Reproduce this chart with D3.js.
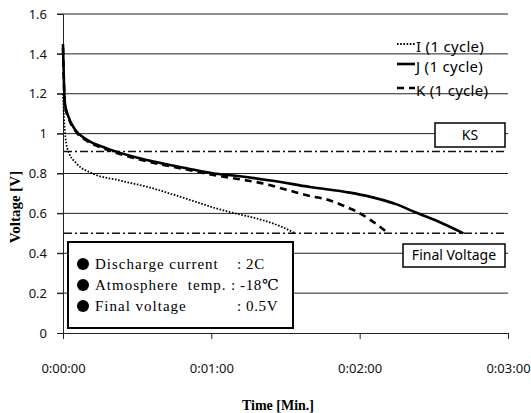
<!DOCTYPE html>
<html>
<head>
<meta charset="utf-8">
<script src="https://cdn.jsdelivr.net/npm/d3@7"></script>
<style>
  body { margin: 0; background: #fff; }
  svg { display: block; }
  .sans { font-family: "Noto Sans", "Open Sans", sans-serif; }
  .serif { font-family: "Liberation Serif", "DejaVu Serif", serif; }
</style>
</head>
<body>
<div id="viz"></div>
<script>
// --- データ (時間[s], 電圧[V]) ---
const tI = [0, 0.4, 1, 2.2, 5.5, 12, 23, 35, 47, 62, 68, 81, 88, 94];
const vI = [1.2, 1.08, 0.98, 0.91, 0.85, 0.80, 0.765, 0.73, 0.685, 0.625, 0.605, 0.565, 0.535, 0.50];

const tJ = [0, 0.4, 0.8, 2.2, 4.9, 9.6, 17.7, 31, 50, 61, 69, 84, 100, 116, 124, 135, 142, 152, 162];
const vJ = [1.45, 1.25, 1.15, 1.085, 1.02, 0.97, 0.926, 0.876, 0.826, 0.80, 0.79, 0.765, 0.732, 0.704, 0.684, 0.645, 0.608, 0.558, 0.50];

const tK = [0, 0.4, 0.8, 2.2, 4.9, 9.6, 17.7, 31, 50, 62, 72, 81, 90, 99, 108, 115, 119, 124, 128, 131.5];
const vK = [1.43, 1.24, 1.14, 1.08, 1.015, 0.965, 0.92, 0.87, 0.82, 0.79, 0.77, 0.75, 0.72, 0.69, 0.665, 0.63, 0.608, 0.57, 0.535, 0.50];

const seriesNames = ["I (1 cycle)", "J (1 cycle)", "K (1 cycle)"];
const xTicks = [0, 60, 120, 180];
const yTicks = [0, 0.2, 0.4, 0.6, 0.8, 1, 1.2, 1.4, 1.6];
const ksLevel = 0.91;
const finalLevel = 0.5;
const infoLabels = ["Discharge current", "Atmosphere\u00a0\u00a0temp.", "Final voltage"];
const infoValues = [": 2C", ": -18\u2103", ": 0.5V"];

// --- 初期化 ---
const W = 531, H = 413;
const svg = d3.select("#viz").append("svg").attr("width", W).attr("height", H);

const x = d3.scaleLinear().domain([0, 180]).range([63, 508]);
const y = d3.scaleLinear().domain([0, 1.6]).range([333, 14]);

const fmtTime = s => {
  const m = Math.floor(s / 60), sec = s % 60;
  return `0:${String(m).padStart(2, "0")}:${String(sec).padStart(2, "0")}`;
};

// グリッド
svg.append("g").selectAll("line")
  .data(yTicks.filter(v => v > 0))
  .enter().append("line")
  .attr("x1", 57).attr("x2", 508)
  .attr("y1", d => y(d)).attr("y2", d => y(d))
  .attr("stroke", "#222").attr("stroke-width", 1);

// 軸
const yAxis = svg.append("g").attr("transform", "translate(63,0)")
  .call(d3.axisLeft(y).tickValues(yTicks).tickSize(6).tickFormat(d3.format("~g")));
const xAxis = svg.append("g").attr("transform", "translate(0,333)")
  .call(d3.axisBottom(x).tickValues(xTicks).tickSize(6).tickFormat(fmtTime));

[yAxis, xAxis].forEach(a => {
  a.select(".domain").attr("stroke", "#222").attr("stroke-width", 1);
  a.selectAll(".tick line").attr("stroke", "#222");
  a.selectAll("text").attr("class", "sans").attr("font-size", 13).attr("fill", "#111");
});
yAxis.selectAll("text").attr("x", -16);
xAxis.selectAll("text").attr("y", 31);

// 一点鎖線 (KS, Final Voltage)
svg.append("g").selectAll("line")
  .data([ksLevel, finalLevel])
  .enter().append("line")
  .attr("x1", 64).attr("x2", 506)
  .attr("y1", d => y(d)).attr("y2", d => y(d))
  .attr("stroke", "#111").attr("stroke-width", 1.4)
  .attr("stroke-dasharray", "8,3,2,3");

// 曲線
const line = d3.line().x(d => x(d[0])).y(d => y(d[1])).curve(d3.curveMonotoneX);
const series = [
  { pts: d3.zip(tI, vI), w: 1.8, dash: "1.6,1.6" },
  { pts: d3.zip(tJ, vJ), w: 2.6, dash: null },
  { pts: d3.zip(tK, vK), w: 2.6, dash: "7,5" }
];
svg.append("g").selectAll("path")
  .data(series)
  .enter().append("path")
  .attr("d", d => line(d.pts))
  .attr("fill", "none").attr("stroke", "#000")
  .attr("stroke-width", d => d.w)
  .attr("stroke-dasharray", d => d.dash);

// 凡例 (右上)
const legY = [47, 67, 91];
const leg = svg.append("g");
series.forEach((s, i) => {
  leg.append("line")
    .attr("x1", 397).attr("x2", 415)
    .attr("y1", legY[i] - 3).attr("y2", legY[i] - 3)
    .attr("stroke", "#000").attr("stroke-width", s.w)
    .attr("stroke-dasharray", s.dash);
  leg.append("text").attr("class", "sans")
    .attr("x", 416).attr("y", legY[i]).attr("dy", "0.35em")
    .attr("font-size", 15).attr("letter-spacing", 0.3)
    .text(seriesNames[i]);
});

// ラベルボックス
function labelBox(x0, y0, w, h, txt) {
  svg.append("rect").attr("x", x0).attr("y", y0).attr("width", w).attr("height", h)
    .attr("fill", "#fff").attr("stroke", "#000").attr("stroke-width", 1.5);
  svg.append("text").attr("class", "sans")
    .attr("x", x0 + w / 2).attr("y", y0 + h / 2).attr("dy", "0.35em")
    .attr("text-anchor", "middle").attr("font-size", 14).text(txt);
}
labelBox(435, 123, 70, 24, "KS");
labelBox(403, 244, 102, 23, "Final Voltage");

// 条件ボックス
svg.append("rect").attr("x", 68).attr("y", 242).attr("width", 225).attr("height", 86)
  .attr("fill", "#fff").attr("stroke", "#000").attr("stroke-width", 2);
const rowY = [264, 285, 306];
const valX = [237, 231, 237];
infoLabels.forEach((t, i) => {
  svg.append("circle").attr("cx", 83).attr("cy", rowY[i]).attr("r", 6).attr("fill", "#000");
  svg.append("text").attr("class", "serif")
    .attr("x", 95).attr("y", rowY[i]).attr("dy", "0.35em")
    .attr("font-size", 15).attr("letter-spacing", 1)
    .text(t);
  svg.append("text").attr("class", "serif")
    .attr("x", valX[i]).attr("y", rowY[i]).attr("dy", "0.35em")
    .attr("font-size", 15).attr("letter-spacing", 0.6)
    .text(infoValues[i]);
});

// 軸タイトル
svg.append("text").attr("class", "serif")
  .attr("transform", "translate(15,207) rotate(-90)")
  .attr("text-anchor", "middle").attr("dy", "0.35em")
  .attr("font-size", 15).attr("font-weight", "bold")
  .text("Voltage [V]");
svg.append("text").attr("class", "serif")
  .attr("x", 278).attr("y", 405).attr("dy", "0.35em")
  .attr("text-anchor", "middle")
  .attr("font-size", 14).attr("font-weight", "bold")
  .text("Time [Min.]");
</script>
</body>
</html>
